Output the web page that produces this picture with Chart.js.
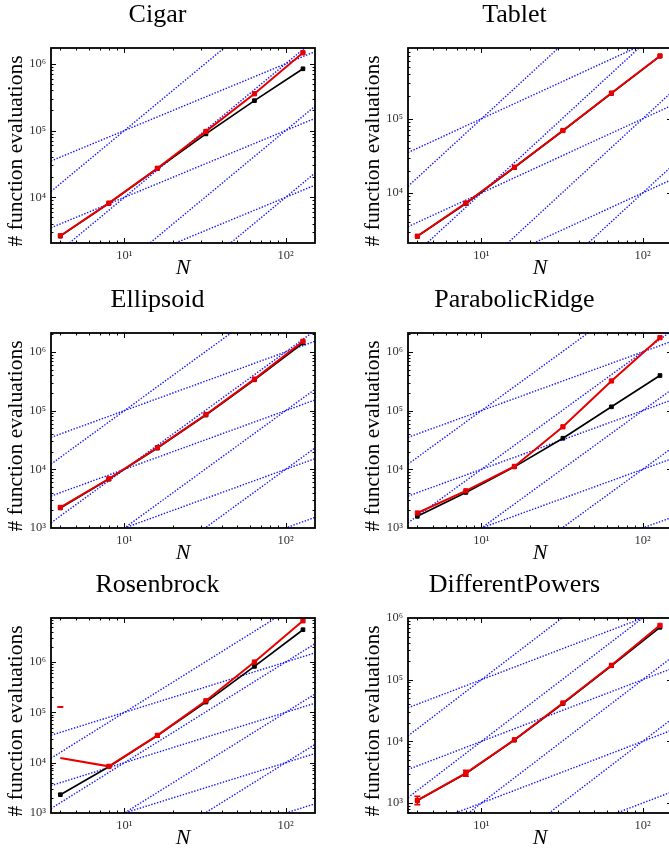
<!DOCTYPE html>
<html>
<head>
<meta charset="utf-8">
<script src="https://cdn.jsdelivr.net/npm/chart.js@4/dist/chart.umd.min.js"></script>
<style>
  html, body { margin: 0; padding: 0; background: #fff; }
  body { width: 669px; height: 852px; overflow: hidden; position: relative; }
  .panel { position: absolute; width: 335px; height: 285px; }
</style>
</head>
<body>
<div id="wrap"></div>
<script>
// Problem dimensions on the x axis
const N = [4, 8, 16, 32, 64, 128];
const xRange = [3.5, 152];

// Guide lines c*N and c*N^2
const linearCoeffs = [10, 100, 1000, 10000];
const quadraticCoeffs = [1, 10, 100, 1000];

const titles = ['Cigar', 'Tablet', 'Ellipsoid', 'ParabolicRidge', 'Rosenbrock', 'DifferentPowers'];

// Function evaluations per test function (red and black runs)
const cigarRed = [2660, 8200, 27200, 97000, 355000, 1460000];
const cigarBlack = [2620, 8100, 27000, 89000, 280000, 840000];
const tabletRed = [2600, 7300, 22200, 69500, 222000, 703000];
const tabletBlack = [2600, 7200, 22000, 69000, 220000, 700000];
const ellipsoidRed = [2240, 6900, 23400, 86000, 344000, 1520000];
const ellipsoidBlack = [2200, 6800, 23000, 84000, 335000, 1420000];
const ridgeRed = [1800, 4300, 11200, 53000, 320000, 1750000];
const ridgeBlack = [1580, 4040, 11000, 33800, 116000, 396000];
const rosenRed = [12400, 8450, 34900, 170000, 1000000, 6600000];
const rosenBlack = [2310, 8300, 34500, 160000, 820000, 4390000];
const rosenRedUpper = [128000];
const powersRed = [1107, 3050, 10600, 41900, 171000, 760000];
const powersBlack = [1100, 3000, 10500, 41000, 168000, 706000];
const powersRedLow = [942, 2710];
const powersRedHigh = [1285, 3390];

// Vertical axis limits per panel
const yMin = [2070, 2110, 1000, 1000, 1000, 689];
const yMax = [1720000, 900000, 2100000, 2100000, 7500000, 1000000];

const redSeries = [cigarRed, tabletRed, ellipsoidRed, ridgeRed, rosenRed, powersRed];
const blackSeries = [cigarBlack, tabletBlack, ellipsoidBlack, ridgeBlack, rosenBlack, powersBlack];

const SERIF = "'Liberation Serif', 'Times New Roman', serif";
const SUP = ['\u2070', '\u00B9', '\u00B2', '\u00B3', '\u2074', '\u2075', '\u2076', '\u2077', '\u2078', '\u2079'];

function powerLabel(v) {
  const e = Math.log10(v);
  const r = Math.round(e);
  if (Math.abs(e - r) > 1e-9) return '';
  return '10' + SUP[r];
}

function pts(xs, ys) { return xs.map((x, i) => ({ x: x, y: ys[i] })); }

// Frame, inward ticks and error bars
const framePlugin = {
  id: 'frame',
  afterDatasetsDraw(chart) {
    const ctx = chart.ctx;
    const a = chart.chartArea;
    const xs = chart.scales.x, ys = chart.scales.y;

    // error bars
    chart.data.datasets.forEach((ds) => {
      if (!ds.errLow) return;
      ctx.save();
      ctx.strokeStyle = ds.borderColor;
      ctx.lineWidth = 1.6;
      ds.errLow.forEach((lo, i) => {
        const hi = ds.errHigh[i];
        const px = xs.getPixelForValue(ds.data[i].x);
        const pl = ys.getPixelForValue(lo), ph = ys.getPixelForValue(hi);
        ctx.beginPath();
        ctx.moveTo(px, pl); ctx.lineTo(px, ph);
        ctx.moveTo(px - 3, pl); ctx.lineTo(px + 3, pl);
        ctx.moveTo(px - 3, ph); ctx.lineTo(px + 3, ph);
        ctx.stroke();
      });
      ctx.restore();
    });

    ctx.save();
    ctx.strokeStyle = '#000';
    ctx.lineWidth = 1;
    ctx.beginPath();
    for (let k = -1; k <= 8; k++) {
      for (let m = 1; m <= 9; m++) {
        const v = m * Math.pow(10, k);
        const len = m === 1 ? 5 : 2.5;
        if (v > xs.min && v < xs.max) {
          const p = Math.round(xs.getPixelForValue(v)) + 0.5;
          ctx.moveTo(p, a.bottom); ctx.lineTo(p, a.bottom - len);
          ctx.moveTo(p, a.top); ctx.lineTo(p, a.top + len);
        }
        if (v > ys.min && v < ys.max) {
          const p = Math.round(ys.getPixelForValue(v)) + 0.5;
          ctx.moveTo(a.left, p); ctx.lineTo(a.left + len, p);
          ctx.moveTo(a.right, p); ctx.lineTo(a.right - len, p);
        }
      }
    }
    ctx.stroke();
    ctx.lineWidth = 1.8;
    ctx.strokeRect(a.left, a.top, a.right - a.left, a.bottom - a.top);
    ctx.restore();
  }
};

const wrap = document.getElementById('wrap');

titles.forEach((title, idx) => {
  const col = idx % 2, row = Math.floor(idx / 2);
  const div = document.createElement('div');
  div.className = 'panel';
  div.style.left = (col * 357) + 'px';
  div.style.top = (row * 285) + 'px';
  const canvas = document.createElement('canvas');
  canvas.width = 335; canvas.height = 285;
  canvas.style.width = '335px'; canvas.style.height = '285px';
  div.appendChild(canvas);
  wrap.appendChild(div);

  const datasets = [];
  const red = {
    data: pts(N, redSeries[idx]),
    borderColor: '#e80000', backgroundColor: '#e80000',
    borderWidth: 2, pointStyle: 'rect',
    pointRadius: idx === 4 ? [0, 3, 3, 3, 3, 3] : 3,
    pointBorderWidth: 1,
    tension: 0
  };
  if (idx === 5) {
    red.errLow = powersRedLow;
    red.errHigh = powersRedHigh;
  }
  datasets.push(red);
  if (idx === 4) {
    datasets.push({
      data: pts([N[0]], rosenRedUpper),
      showLine: false, borderColor: '#e80000', backgroundColor: '#e80000',
      pointStyle: 'line', pointRadius: 3, pointBorderWidth: 2
    });
  }
  datasets.push({
    data: pts(N, blackSeries[idx]),
    borderColor: '#000', backgroundColor: '#000',
    borderWidth: 1.7, pointStyle: 'rect', pointRadius: 2.6, pointBorderWidth: 1,
    tension: 0
  });
  const guides = [];
  linearCoeffs.forEach(c => guides.push([c, 1]));
  quadraticCoeffs.forEach(c => guides.push([c, 2]));
  guides.forEach(([c, p]) => {
    datasets.push({
      data: xRange.map(x => ({ x: x, y: c * Math.pow(x, p) })),
      borderColor: 'rgb(20,20,255)', borderWidth: 1.4,
      borderDash: [1.4, 1.6], pointRadius: 0, tension: 0
    });
  });

  new Chart(canvas, {
    type: 'line',
    data: { datasets: datasets },
    plugins: [framePlugin],
    options: {
      responsive: false,
      animation: false,
      devicePixelRatio: 1,
      layout: { padding: { left: 0, right: 20, top: 0, bottom: 0 } },
      plugins: {
        legend: { display: false },
        tooltip: { enabled: false },
        title: {
          display: true, text: title, color: '#000',
          font: { family: SERIF, size: 26, weight: 'normal', lineHeight: 1.2 },
          padding: { top: 0, bottom: 16.8 }
        }
      },
      scales: {
        x: {
          type: 'logarithmic', min: xRange[0], max: xRange[1],
          grid: { display: false, drawTicks: false },
          border: { display: false },
          ticks: {
            autoSkip: false, maxRotation: 0, padding: 5, color: '#333',
            font: { family: SERIF, size: 12.5 },
            callback: v => powerLabel(v)
          },
          title: {
            display: true, text: 'N', color: '#000',
            font: { family: SERIF, size: 22, style: 'italic', lineHeight: 1.2 },
            padding: { top: 0, bottom: 4 }
          },
          afterFit(s) { s.height = 42; s.paddingLeft = 0; s.paddingRight = 0; }
        },
        y: {
          type: 'logarithmic', min: yMin[idx], max: yMax[idx],
          grid: { display: false, drawTicks: false },
          border: { display: false },
          ticks: {
            autoSkip: false, padding: 5, color: '#333',
            font: { family: SERIF, size: 12.5 },
            callback: v => powerLabel(v)
          },
          title: {
            display: true, text: '# function evaluations  ', color: '#000',
            font: { family: SERIF, size: 21.5, lineHeight: 1.2 },
            padding: { top: 3.6, bottom: 0 }
          },
          afterFit(s) { s.width = 51; s.paddingTop = 0; s.paddingBottom = 0; }
        }
      }
    }
  });
});
</script>
</body>
</html>
